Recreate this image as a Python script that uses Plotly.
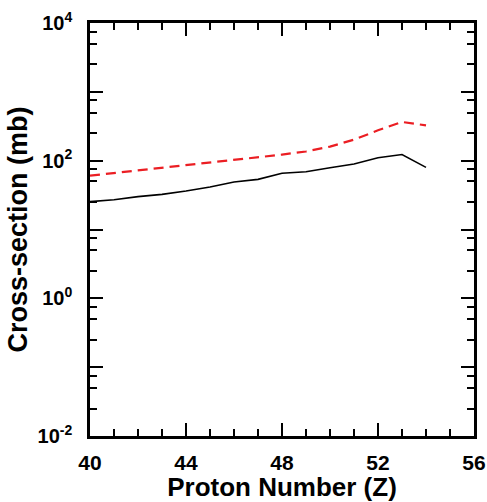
import plotly.graph_objects as go

Z = [40, 41, 42, 43, 44, 45, 46, 47, 48, 49, 50, 51, 52, 53, 54]
sigma_solid = [25.4, 27.1, 30.0, 32.4, 36.3, 41.5, 49.0, 53.5, 65.5, 69.0, 79.0, 89.6, 110.0, 123.0, 80.0]
sigma_dashed = [60.5, 66.0, 72.5, 79.5, 87.5, 95.0, 104.0, 113.0, 122.5, 136.0, 160.0, 202.0, 276.0, 365.0, 326.0]

x_ticks = [40, 44, 48, 52, 56]
y_major = [1e-2, 1e-1, 1e0, 1e1, 1e2, 1e3, 1e4]
y_labels = ["10<sup>-2</sup>", "", "10<sup>0</sup>", "", "10<sup>2</sup>", "", "10<sup>4</sup>"]
y_minor = [m * 10.0 ** e for e in range(-2, 4) for m in (2.5, 5, 7.5)]

FONT = "Liberation Sans"

fig = go.Figure()
fig.add_trace(go.Scatter(x=Z, y=sigma_solid, mode="lines",
                         line=dict(color="black", width=1.6), showlegend=False))
fig.add_trace(go.Scatter(x=Z, y=sigma_dashed, mode="lines",
                         line=dict(color="rgb(235,30,35)", width=2.2, dash="10px,6px"),
                         showlegend=False))

axis_common = dict(showgrid=False, zeroline=False, showline=True, linecolor="black",
                   linewidth=2.5, mirror="allticks", ticks="inside", tickcolor="black",
                   tickwidth=2, ticklen=13, automargin=False)

fig.update_xaxes(range=[40, 56], tickmode="array", tickvals=x_ticks,
                 ticktext=[str(v) for v in x_ticks],
                 minor=dict(dtick=1, ticks="inside", ticklen=7, tickwidth=1.5, tickcolor="black"),
                 tickfont=dict(family=FONT, size=21, color="black", weight="bold"),
                 ticklabelstandoff=6,
                 title=dict(text="Proton Number (Z)", standoff=8,
                            font=dict(family=FONT, size=26, color="black", weight="bold")),
                 **axis_common)
fig.update_yaxes(type="log", range=[-2, 4], tickmode="array", tickvals=y_major,
                 ticktext=y_labels,
                 minor=dict(tickmode="array", tickvals=y_minor, ticks="inside", ticklen=7,
                            tickwidth=1.5, tickcolor="black"),
                 tickfont=dict(family=FONT, size=20, color="black", weight="bold"),
                 ticklabelstandoff=11,
                 title=dict(text="Cross-section (mb)", standoff=3,
                            font=dict(family=FONT, size=27, color="black", weight="bold")),
                 **axis_common)

fig.update_layout(width=487, height=502, margin=dict(l=90, r=13, t=23, b=66),
                  plot_bgcolor="white", paper_bgcolor="white")

fig.write_html("out.html")
